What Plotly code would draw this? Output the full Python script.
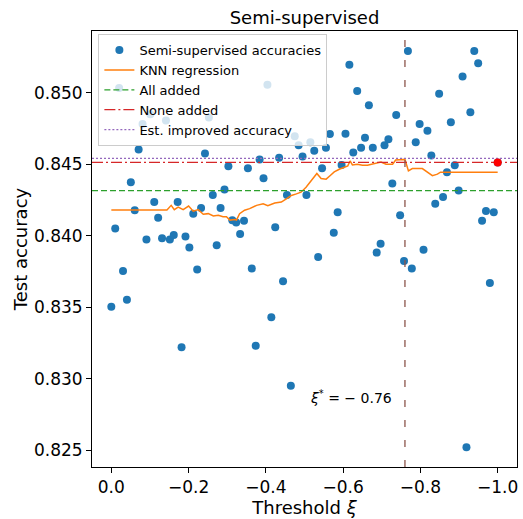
import numpy as np
import plotly.graph_objects as go

# Threshold sweep and the test accuracy obtained at each threshold
thresholds = np.linspace(0.0, -1.0, 100)
accuracies = [
    0.83503, 0.84051, 0.85032, 0.83753, 0.83553, 0.84373, 0.84178, 0.84602, 0.84781, 0.83973,
    0.84848, 0.84235, 0.84125, 0.83982, 0.84804, 0.83973, 0.84004, 0.84235, 0.83220, 0.83994,
    0.83918, 0.84154, 0.83764, 0.84194, 0.84574, 0.84825, 0.84285, 0.83934, 0.84194, 0.84322,
    0.84485, 0.84107, 0.84092, 0.84012, 0.84104, 0.84471, 0.83771, 0.83231, 0.84533, 0.84402,
    0.85054, 0.83431, 0.84059, 0.84545, 0.83682, 0.84285, 0.82952, 0.84694, 0.84632, 0.84554,
    0.84285, 0.84653, 0.84593, 0.83851, 0.84471, 0.84614, 0.84710, 0.84021, 0.84164, 0.84494,
    0.84712, 0.85194, 0.84581, 0.85011, 0.84614, 0.84685, 0.84912, 0.84614, 0.83882, 0.83944,
    0.84632, 0.84674, 0.84364, 0.84843, 0.84143, 0.83824, 0.85291, 0.83771, 0.84653, 0.84781,
    0.83902, 0.84733, 0.84561, 0.84223, 0.84992, 0.84271, 0.84444, 0.84793, 0.84492, 0.84315,
    0.85112, 0.82522, 0.84862, 0.85291, 0.85204, 0.84104, 0.84173, 0.83670, 0.84164, 0.84512,
]

# KNN regression curve of accuracy against threshold
knn_x = [
    0.0, -0.144, -0.155, -0.163, -0.173, -0.186, -0.200, -0.212, -0.225, -0.238,
    -0.251, -0.264, -0.277, -0.289, -0.298, -0.307, -0.320, -0.324, -0.332, -0.345,
    -0.358, -0.376, -0.393, -0.405, -0.423, -0.440, -0.453, -0.466, -0.479, -0.491,
    -0.504, -0.517, -0.532, -0.543, -0.556, -0.566, -0.577, -0.590, -0.603, -0.612,
    -0.618, -0.624, -0.637, -0.650, -0.663, -0.676, -0.698, -0.711, -0.728, -0.736,
    -0.753, -0.760, -0.769, -0.779, -0.805, -0.814, -0.831, -0.844, -0.852, -0.874,
    -1.000,
]
knn_y = [
    0.84180, 0.84180, 0.84212, 0.84182, 0.84200, 0.84182, 0.84207, 0.84171, 0.84182, 0.84150,
    0.84154, 0.84138, 0.84143, 0.84132, 0.84132, 0.84109, 0.84113, 0.84109, 0.84154, 0.84178,
    0.84189, 0.84212, 0.84223, 0.84209, 0.84228, 0.84235, 0.84258, 0.84281, 0.84292, 0.84304,
    0.84338, 0.84384, 0.84435, 0.84400, 0.84395, 0.84419, 0.84446, 0.84464, 0.84476, 0.84488,
    0.84522, 0.84494, 0.84499, 0.84492, 0.84492, 0.84499, 0.84515, 0.84499, 0.84499, 0.84529,
    0.84533, 0.84533, 0.84453, 0.84469, 0.84469, 0.84453, 0.84419, 0.84430, 0.84444, 0.84444,
    0.84444,
]

all_added = 0.84315
none_added = accuracies[-1]
est_improved = 0.84540
xi_star = -0.76

x_range = [0.05, -1.05]
y_range = [0.82384, 0.85430]
x_ticks = [0.0, -0.2, -0.4, -0.6, -0.8, -1.0]
y_ticks = [0.825, 0.830, 0.835, 0.840, 0.845, 0.850]

FONT = "DejaVu Sans"

fig = go.Figure()

fig.add_trace(go.Scatter(
    x=thresholds, y=accuracies, mode="markers",
    name="Semi-supervised accuracies",
    marker=dict(color="#1f77b4", size=8, line=dict(width=0)),
))
fig.add_trace(go.Scatter(
    x=knn_x, y=knn_y, mode="lines", name="KNN regression",
    line=dict(color="#ff7f0e", width=1.5),
))
fig.add_trace(go.Scatter(
    x=x_range, y=[all_added, all_added], mode="lines", name="All added",
    line=dict(color="#2ca02c", width=1.3, dash="6px,3px"),
))
fig.add_trace(go.Scatter(
    x=x_range, y=[none_added, none_added], mode="lines", name="None added",
    line=dict(color="#d62728", width=1.3, dash="11px,3px,2px,3px"),
))
fig.add_trace(go.Scatter(
    x=x_range, y=[est_improved, est_improved], mode="lines",
    name="Est. improved accuracy",
    line=dict(color="#9467bd", width=1.3, dash="2px,2px"),
))
fig.add_trace(go.Scatter(
    x=[thresholds[-1]], y=[none_added], mode="markers", showlegend=False,
    marker=dict(color="#ff0000", size=8, line=dict(width=0)),
))

# Selected threshold
fig.add_vline(x=xi_star, line=dict(color="#8c564b", width=1.3, dash="7px,13px"))
fig.add_annotation(
    x=-0.51, y=0.82872, xref="x", yref="y", xanchor="left", yanchor="middle",
    text="<i>ξ</i><sup>*</sup> = − 0.76", showarrow=False,
    font=dict(family=FONT, size=14, color="black"),
)

axis_common = dict(
    showgrid=False, zeroline=False, showline=True, mirror=True,
    linecolor="black", linewidth=1, ticks="outside", ticklen=5,
    tickcolor="black", tickwidth=1,
    tickfont=dict(family=FONT, size=17, color="black"),
)

fig.update_layout(
    width=523, height=519,
    margin=dict(l=92, r=5, t=31, b=46),
    paper_bgcolor="white", plot_bgcolor="white",
    title=dict(text="Semi-supervised", x=0.5, xref="paper", xanchor="center",
               y=1 - 18 / 519, yref="container", yanchor="middle",
               font=dict(family=FONT, size=18, color="black")),
    xaxis=dict(range=x_range, tickvals=x_ticks, tickformat=".1f",
               title=dict(text="Threshold <i>ξ</i>", standoff=4,
                          font=dict(family=FONT, size=18, color="black")),
               **axis_common),
    yaxis=dict(range=y_range, tickvals=y_ticks, tickformat=".3f",
               title=dict(text="Test accuracy", standoff=1,
                          font=dict(family=FONT, size=18, color="black")),
               **axis_common),
    legend=dict(x=0.015, y=0.993, xanchor="left", yanchor="top",
                bgcolor="rgba(255,255,255,0.8)", bordercolor="#cccccc",
                borderwidth=1, font=dict(family=FONT, size=13, color="black")),
    showlegend=True,
)

fig.write_html("out.html")
